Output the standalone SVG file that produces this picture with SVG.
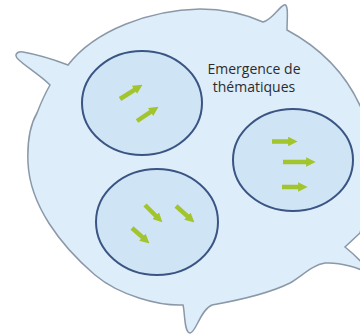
<svg xmlns="http://www.w3.org/2000/svg" width="360" height="336" viewBox="0 0 360 336">
  <style>
    .blob { fill: #ddedf9; stroke: #8a98a8; stroke-width: 1.5; }
    .cell { fill: #cfe4f5; stroke: #3a5583; stroke-width: 2; }
    .arr { stroke: #a2c42c; stroke-width: 4.5; stroke-linecap: butt; fill: none; marker-end: url(#head); }
    .lbl { font-family: "Open Sans", "Liberation Sans", sans-serif; font-size: 14px; fill: #2c2c2c; text-anchor: middle; }
  </style>
  <defs>
    <marker id="head" viewBox="0 0 10 10" refX="2" refY="5" markerWidth="9.5" markerHeight="9.5" markerUnits="userSpaceOnUse" orient="auto">
      <path d="M0,0 L10,5 L0,10 z" fill="#a2c42c"/>
    </marker>
  </defs>
  <rect width="360" height="336" fill="#ffffff"/>
  <g id="blob">
    <path class="blob" d="M68,65 C95,30 150,10 200,9 C225,9 245,14 263,22 C272,20 278,8 284,5 C289,3 287,20 287,30 C315,45 345,70 362,110 C372,150 368,205 360,233 L345,247 C355,255 365,265 372,275 C360,268 340,262 325,263 C312,265 302,276 290,283 C270,293 240,300 212,305 C200,310 196,333 190,333 C184,333 185,312 183,305 C160,306 120,296 95,275 C60,245 30,205 28,163 C27,140 30,125 37,113 C42,100 46,92 50,85 C40,75 25,66 19,60 C13,55 17,51 23,52 C40,55 55,60 68,65 Z"/>
  </g>
  <g id="cell1">
    <ellipse class="cell" cx="142" cy="103" rx="60" ry="52"/>
    <line class="arr" x1="120" y1="99" x2="136.1" y2="88.8"/>
    <line class="arr" x1="137" y1="121" x2="152.2" y2="110.9"/>
  </g>
  <g id="cell2">
    <ellipse class="cell" cx="293" cy="160" rx="60" ry="51"/>
    <line class="arr" x1="272" y1="141.5" x2="290" y2="141.5"/>
    <line class="arr" x1="283" y1="162" x2="308" y2="162"/>
    <line class="arr" x1="282" y1="187" x2="300" y2="187"/>
  </g>
  <g id="cell3">
    <ellipse class="cell" cx="157" cy="222" rx="61" ry="53"/>
    <line class="arr" x1="145" y1="205" x2="157" y2="217"/>
    <line class="arr" x1="176" y1="206" x2="188.8" y2="217.4"/>
    <line class="arr" x1="132" y1="228" x2="143.8" y2="238.4"/>
  </g>
  <g id="label">
    <text class="lbl" x="254" y="74">Emergence de</text>
    <text class="lbl" x="254" y="92">thématiques</text>
  </g>
  <g id="connectors"/>
</svg>
